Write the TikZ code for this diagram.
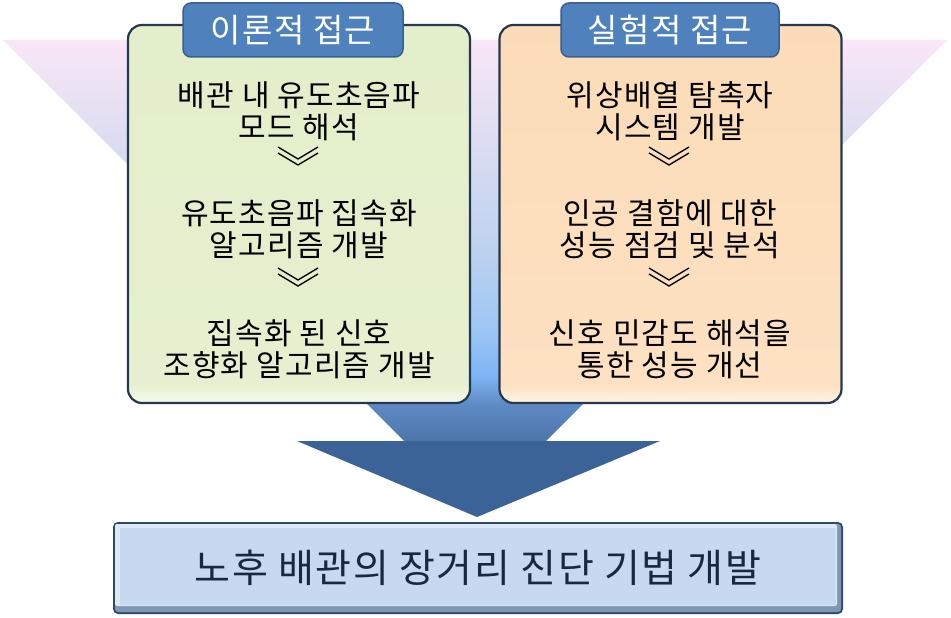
\documentclass[tikz,border=0pt]{standalone}
\usepackage{fontspec}
\setmainfont{Noto Sans CJK KR}[LetterSpace=4.0]
\definecolor{fA}{HTML}{4D76AA}
\definecolor{fB}{HTML}{5E8AC4}
\definecolor{fC}{HTML}{7DB5F3}
\definecolor{fD}{HTML}{9CC6F4}
\definecolor{fE}{HTML}{BDD2EF}
\definecolor{fF}{HTML}{DCDDF1}
\definecolor{fG}{HTML}{FAE6F8}
\definecolor{gT}{HTML}{E3EECA}
\definecolor{gM}{HTML}{E6F0D0}
\definecolor{gW}{HTML}{F6FAEC}
\definecolor{oT}{HTML}{FCDCB8}
\definecolor{oM}{HTML}{FDE1C2}
\definecolor{oW}{HTML}{FFF2E3}
\definecolor{boxline}{HTML}{26384F}
\definecolor{tabfill}{HTML}{4F81BD}
\definecolor{tabline}{HTML}{3A5F8E}
\definecolor{arrowc}{HTML}{3B6397}
\definecolor{goalface}{HTML}{C6D9F1}
\definecolor{goalline}{HTML}{2E4A6E}
\definecolor{goalshade}{HTML}{7F96B5}
\definecolor{goallight}{HTML}{DDE8F5}
\definecolor{goaltext}{HTML}{1A2740}
\pgfdeclareverticalshading{funnelshade}{100bp}{color(0bp)=(fA); color(25bp)=(fA); color(29.5bp)=(fB); color(33.2bp)=(fC); color(38.8bp)=(fD); color(48.8bp)=(fE); color(62.5bp)=(fF); color(75bp)=(fG); color(100bp)=(fG)}
\pgfdeclareverticalshading{greenshade}{100bp}{color(0bp)=(gW); color(25bp)=(gW); color(27.5bp)=(gM); color(75bp)=(gT); color(100bp)=(gT)}
\pgfdeclareverticalshading{orangeshade}{100bp}{color(0bp)=(oW); color(25bp)=(oW); color(27.5bp)=(oM); color(75bp)=(oT); color(100bp)=(oT)}
\tikzset{
  chev/.pic={
    \draw[line width=1.3pt] (-20,-9) -- (0,3) -- (20,-9);
    \draw[line width=1.3pt] (-20,-3) -- (0,9) -- (20,-3);
  },
  bigbox/.style={draw=boxline, line width=2.2pt, rounded corners=14pt,
    minimum width=342pt, minimum height=378pt, inner sep=0pt},
  tabbox/.style={draw=tabline, fill=tabfill, line width=1.5pt, rounded corners=8pt,
    minimum height=54pt, inner sep=0pt, text=white,
    font=\fontsize{33}{36}\selectfont},
  item/.style={align=center, inner sep=0pt, font=\fontsize{30}{32}\selectfont},
}
\begin{document}
\begin{tikzpicture}[x=1pt,y=-1pt]
\useasboundingbox (0,0) rectangle (951,618);
\fill[white] (0,0) rectangle (951,618);
% funnel
\shade[shading=funnelshade] (3,40) -- (947,40) -- (546,441) -- (404,441) -- cycle;
\fill[arrowc] (297,441) -- (660,441) -- (477,517) -- cycle;
% boxes
\node[bigbox, shading=greenshade, shade] (Lbox) at (299,214) {};
\node[bigbox, shading=orangeshade, shade] (Rbox) at (670.5,214) {};
\node[tabbox, minimum width=220pt] (Ltab) at (293,30) {이론적 접근};
\node[tabbox, minimum width=218pt] (Rtab) at (670,30) {실험적 접근};
% left items
\node[item] (L1) at (299,111) {배관 내 유도초음파\\모드 해석};
\node[item] (L2) at (299,229) {유도초음파 집속화\\알고리즘 개발};
\node[item] (L3) at (299,349) {집속화 된 신호\\조향화 알고리즘 개발};
\pic at (298,156) {chev};
\pic at (298,277) {chev};
% right items
\node[item] (R1) at (670,111) {위상배열 탐촉자\\시스템 개발};
\node[item] (R2) at (670,229) {인공 결함에 대한\\성능 점검 및 분석};
\node[item] (R3) at (670,349) {신호 민감도 해석을\\통한 성능 개선};
\pic at (669,156) {chev};
\pic at (669,277) {chev};
% goal box
\fill[goalline, rounded corners=5pt] (113,522) rectangle (843,614);
\fill[goalshade, rounded corners=3pt] (115,524) rectangle (841,612);
\fill[goallight, rounded corners=2pt] (115,524) rectangle (837,606);
\fill[goalface] (120,528) rectangle (836,605);
\node[inner sep=0pt, text=goaltext, font=\fontsize{39}{42}\selectfont] (goal) at (478,568) {노후 배관의 장거리 진단 기법 개발};
\end{tikzpicture}
\end{document}
